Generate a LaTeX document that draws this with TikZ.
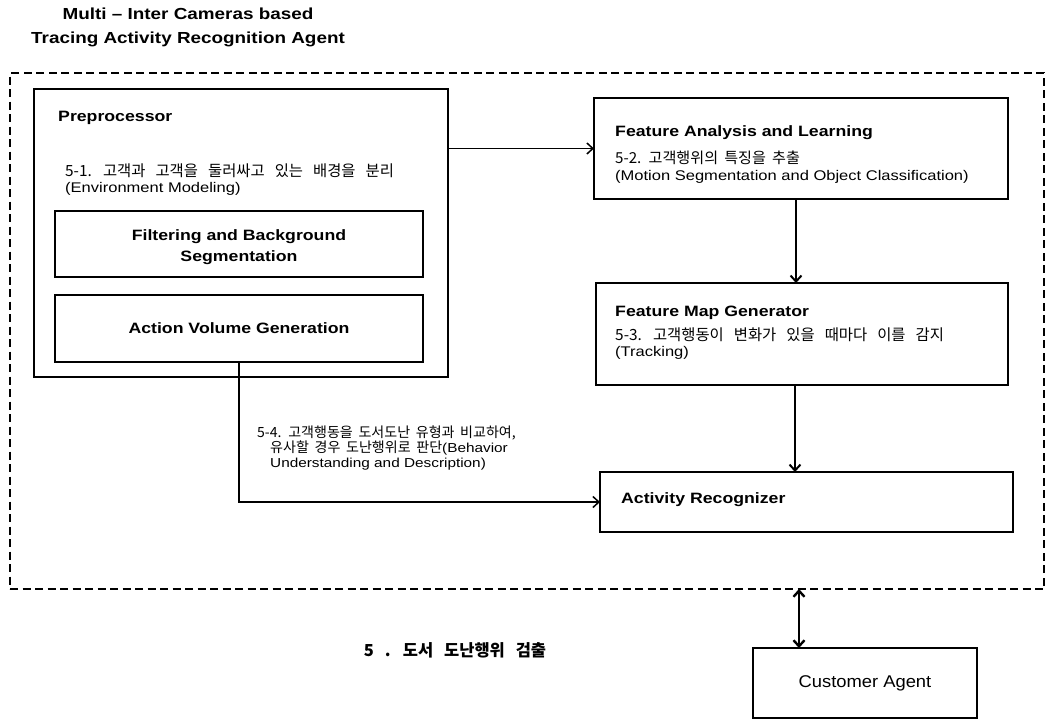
\documentclass[tikz,border=0pt]{standalone}
\usepackage{fontspec}
\setmainfont{Liberation Sans}[FakeStretch=1.18]
\newfontfamily\kr{Noto Sans CJK KR}[WordSpace=2.9, Scale=1.1]
\newfontfamily\krtight{Noto Sans CJK KR}[WordSpace=1.8, Scale=1.08]
\newfontfamily\cafont{Liberation Sans}[FakeStretch=1.08]
\usetikzlibrary{arrows.meta}
\newcommand{\ko}[1]{{\kr #1}}
\newcommand{\kot}[1]{{\krtight #1}}

\tikzset{
  box/.style={draw, line width=2.4pt, inner sep=0pt, outer sep=0pt},
  subbox/.style={draw, line width=1.6pt, inner sep=0pt, outer sep=0pt},
  frame/.style={draw, line width=2.6pt, dash pattern=on 8pt off 4.5pt, inner sep=0pt, outer sep=0pt},
  head/.style={font=\fontsize{15}{17}\selectfont\bfseries, inner sep=0pt},
  body/.style={font=\fontsize{14}{15.5}\selectfont, inner sep=0pt, align=left},
  flow/.style={line width=1.5pt, -{Straight Barb[length=6pt,width=11pt,line width=1.5pt]}},
  vflow/.style={line width=2pt, -{Straight Barb[length=6pt,width=11pt,line width=2pt]}},
  link/.style={line width=2.6pt, {Straight Barb[length=6pt,width=11pt,line width=2.4pt]}-{Straight Barb[length=6pt,width=11pt,line width=2.4pt]}},
}

\begin{document}
\begin{tikzpicture}[x=1pt, y=-1pt]
\useasboundingbox (0,0) rectangle (1047,724);

% title
\node[head, font=\fontsize{16}{24}\selectfont\bfseries, align=center] (title) at (188,27)
  {Multi -- Inter Cameras based\\Tracing Activity Recognition Agent};

% agent boundary
\node[frame, minimum width=1034pt, minimum height=516pt] (outer) at (527,331) {};

% preprocessor block
\node[box, minimum width=414pt, minimum height=288pt] (pre) at (241,233) {};
\node[head, anchor=west] (prelabel) at (58,118) {Preprocessor};
\node[body, anchor=north west] (pretext) at (65,164)
  {\ko{5-1. 고객과 고객을 둘러싸고 있는 배경을 분리}\\(Environment Modeling)};
\node[subbox, minimum width=368pt, minimum height=66pt] (filt) at (239,244) {};
\node[head, align=center, font=\fontsize{15}{21}\selectfont\bfseries] (filtlabel) at ([yshift=-3pt]filt.center)
  {Filtering and Background\\Segmentation};
\node[subbox, minimum width=368pt, minimum height=67pt] (avg) at (239,328.5) {};
\node[head] (avglabel) at (avg.center) {Action Volume Generation};

% feature analysis
\node[box, minimum width=414pt, minimum height=101pt] (fal) at (801,148.5) {};
\node[head, anchor=west] (fallabel) at (615,133) {Feature Analysis and Learning};
\node[body, anchor=north west, font=\fontsize{14}{17}\selectfont] (faltext) at (615,151)
  {\kot{5-2. 고객행위의 특징을 추출}\\(Motion Segmentation and Object Classification)};

% feature map generator
\node[box, minimum width=412pt, minimum height=102pt] (fmg) at (802,334) {};
\node[head, anchor=west] (fmglabel) at (615,313) {Feature Map Generator};
\node[body, anchor=north west] (fmgtext) at (615,328)
  {\ko{5-3. 고객행동이 변화가 있을 때마다 이를 감지}\\(Tracking)};

% activity recognizer
\node[box, minimum width=413pt, minimum height=60pt] (ar) at (806.5,502) {};
\node[head, anchor=west] (arlabel) at (621,500) {Activity Recognizer};

% customer agent
\node[box, minimum width=224pt, minimum height=70pt] (ca) at (865,683) {};
\node[font=\cafont\fontsize{17}{20}\selectfont, inner sep=0pt] (calabel) at (ca.center) {Customer Agent};

% step label and caption
\node[body, anchor=north west, font=\fontsize{13}{15}\selectfont] (judge) at (257,426)
  {\kot{5-4. 고객행동을 도서도난 유형과 비교하여,}\\
   \hspace*{13pt}\kot{유사할 경우 도난행위로 판단}(Behavior\\
   \hspace*{13pt}Understanding and Description)};
\node[font={\kr\fontsize{15}{17}\selectfont\bfseries}, inner sep=0pt] (caption) at (455,650)
  {5 . 도서 도난행위 검출};

% connectors
\draw[flow] (pre.east |- fal.west) -- (fal.west);
\draw[vflow] ([xshift=-5pt]fal.south) -- ([xshift=-5pt]fal.south |- fmg.north);
\draw[vflow] ([xshift=-7pt]fmg.south) -- ([xshift=-7pt]fmg.south |- ar.north);
\draw[flow] (avg.south) |- (ar.west);
\draw[link] ([xshift=-66pt]ca.north) -- ([xshift=-66pt]ca.north |- outer.south);
\end{tikzpicture}
\end{document}
